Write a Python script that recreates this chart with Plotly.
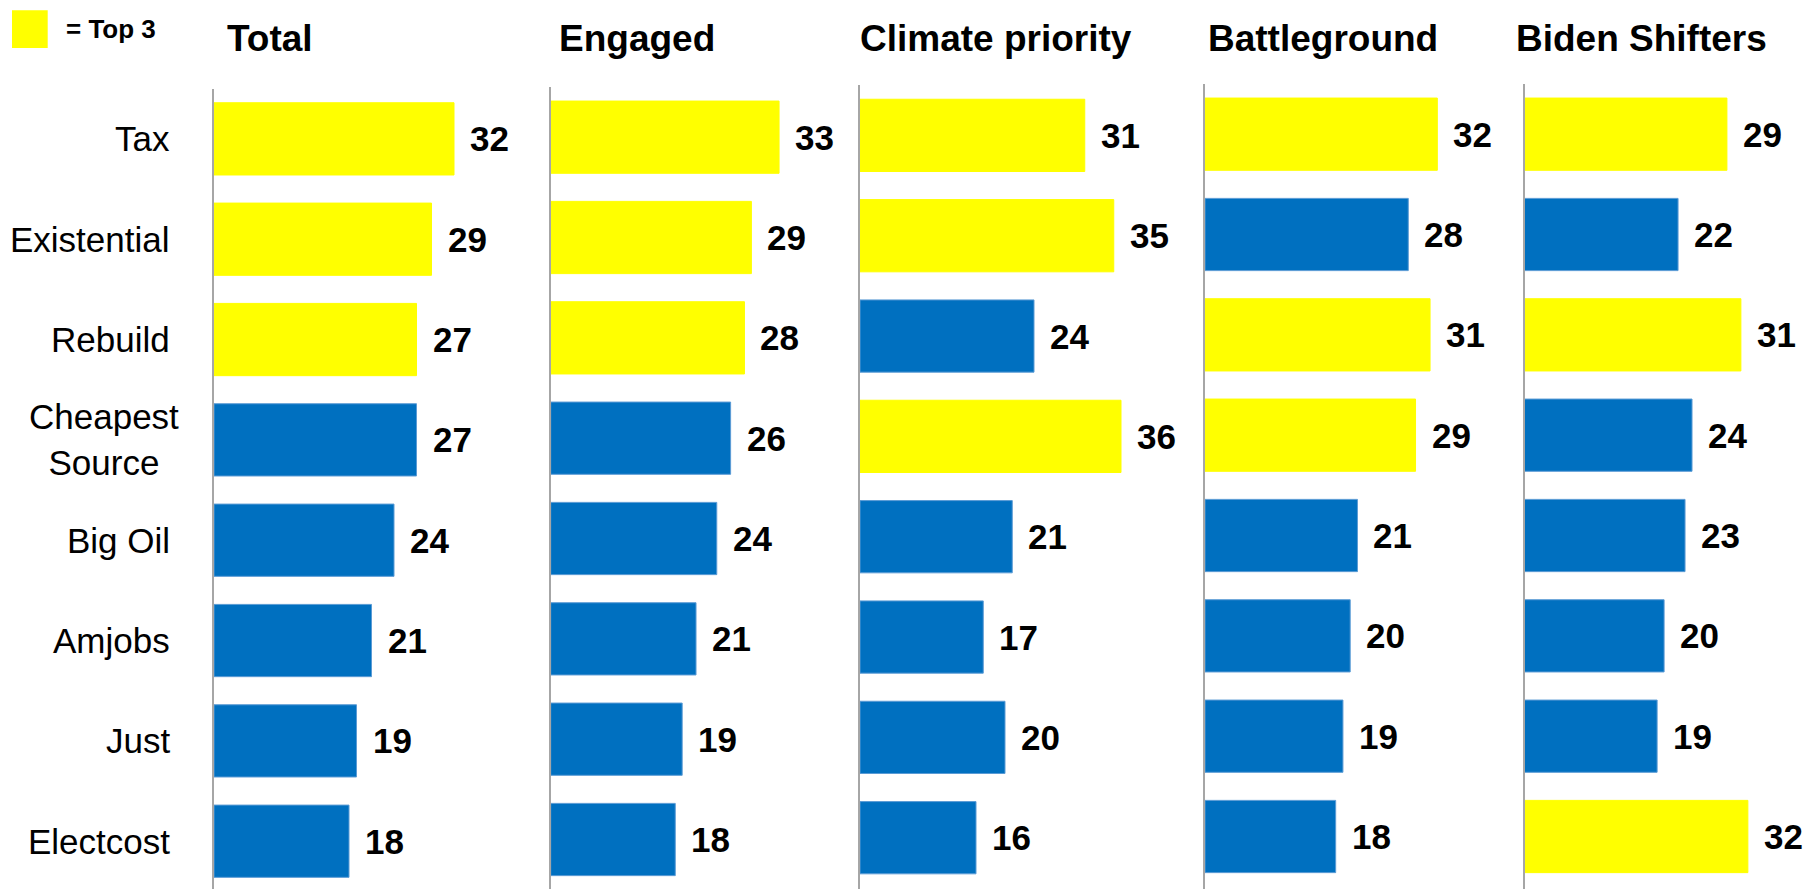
import plotly.graph_objects as go

# ---------------- data ----------------
categories = ["Tax", "Existential", "Rebuild", "Cheapest Source", "Big Oil", "Amjobs", "Just", "Electcost"]
category_labels = ["Tax", "Existential", "Rebuild", "Cheapest<br>Source", "Big Oil", "Amjobs", "Just", "Electcost"]
panel_titles = ["Total", "Engaged", "Climate priority", "Battleground", "Biden Shifters"]

total = [32, 29, 27, 27, 24, 21, 19, 18]
engaged = [33, 29, 28, 26, 24, 21, 19, 18]
climate_priority = [31, 35, 24, 36, 21, 17, 20, 16]
battleground = [32, 28, 31, 29, 21, 20, 19, 18]
biden_shifters = [29, 22, 31, 24, 23, 20, 19, 32]

top3_total = ["Tax", "Existential", "Rebuild"]
top3_engaged = ["Tax", "Existential", "Rebuild"]
top3_climate_priority = ["Tax", "Existential", "Cheapest Source"]
top3_battleground = ["Tax", "Rebuild", "Cheapest Source"]
top3_biden_shifters = ["Tax", "Rebuild", "Electcost"]

legend_label = "= Top 3"

# ---------------- styling / layout ----------------
W, H = 1810, 889
TOP_MARGIN = 83.8
YELLOW = "#FFFF00"
BLUE = "#0070C0"
BLUE_EDGE = "#5B9BD5"
FONT = "Liberation Sans, Arial, sans-serif"

series = [total, engaged, climate_priority, battleground, biden_shifters]
tops = [top3_total, top3_engaged, top3_climate_priority, top3_battleground, top3_biden_shifters]

axis_px = [214, 550.7, 860, 1205, 1524.5]        # left edge (pixel) of each panel
px_per_unit = [7.5, 6.92, 7.25, 7.26, 6.98]       # horizontal scale of each panel
panel_top_px = [88.5, 86.8, 85.0, 83.8, 83.8]     # top of each panel's axis line
title_px = [225, 557, 858, 1206, 1514]
row_pitch = 100.36
XMAX = 40

plot_h = H - TOP_MARGIN

fig = go.Figure()
annotations = []

for i, (vals, top3) in enumerate(zip(series, tops)):
    n = i + 1
    xa = "x" if n == 1 else f"x{n}"
    ya = "y" if n == 1 else f"y{n}"
    colors = [YELLOW if c in top3 else BLUE for c in categories]
    edges = [YELLOW if c in top3 else BLUE_EDGE for c in categories]
    fig.add_trace(go.Bar(
        x=vals, y=categories, orientation="h",
        marker=dict(color=colors, line=dict(color=edges, width=1)),
        xaxis=xa, yaxis=ya, showlegend=False, hoverinfo="x+y",
    ))
    x0 = axis_px[i] / W
    x1 = (axis_px[i] + XMAX * px_per_unit[i]) / W
    dom_top = min(1.0, max(0.0, 1 - (panel_top_px[i] - TOP_MARGIN) / plot_h))
    y_bottom = -0.5 + (H - panel_top_px[i]) / row_pitch
    xkey = "xaxis" if n == 1 else f"xaxis{n}"
    ykey = "yaxis" if n == 1 else f"yaxis{n}"
    fig.update_layout(**{
        xkey: dict(domain=[x0, x1], range=[0, XMAX], visible=False, anchor=ya),
        ykey: dict(domain=[0, dom_top], range=[y_bottom, -0.5], type="category",
                   categoryorder="array", categoryarray=categories,
                   showline=True, linecolor="#A6A6A6", linewidth=1.5,
                   showticklabels=False, showgrid=False, zeroline=False,
                   ticks="", anchor=xa),
    })
    # value labels
    for c, v in zip(categories, vals):
        annotations.append(dict(
            x=v, y=c, xref=xa, yref=ya, text=f"<b>{v}</b>", showarrow=False,
            xanchor="left", yanchor="middle", xshift=14,
            font=dict(family=FONT, size=35, color="black"),
        ))
    # panel title
    annotations.append(dict(
        x=title_px[i] / W, y=(H - 38) / plot_h, xref="paper", yref="paper",
        text=f"<b>{panel_titles[i]}</b>", showarrow=False,
        xanchor="left", yanchor="middle",
        font=dict(family=FONT, size=37, color="black"),
    ))

# category labels (first panel)
for c, lab in zip(categories, category_labels):
    annotations.append(dict(
        x=0, y=c, xref="x", yref="y", text=lab, showarrow=False,
        xanchor="right", yanchor="middle",
        xshift=-33 if "<br>" in lab else -42, align="center",
        font=dict(family=FONT, size=35, color="black"),
    ))

# legend
annotations.append(dict(
    x=64 / W, y=(H - 28.5) / plot_h, xref="paper", yref="paper",
    text=f"<b>{legend_label}</b>", showarrow=False, xanchor="left", yanchor="middle",
    font=dict(family=FONT, size=26, color="black"),
))
shapes = [dict(type="rect", xref="paper", yref="paper",
               x0=12 / W, x1=47.7 / W, y0=(H - 47.7) / plot_h, y1=(H - 10) / plot_h,
               fillcolor=YELLOW, line=dict(width=0))]

fig.update_layout(
    width=W, height=H,
    margin=dict(l=0, r=0, t=TOP_MARGIN, b=0),
    paper_bgcolor="white", plot_bgcolor="white",
    bargap=0.28,
    annotations=annotations, shapes=shapes,
    font=dict(family=FONT),
)

fig.write_html("out.html", config={"displayModeBar": False},
               post_script="document.body.style.margin='0';document.body.style.overflow='hidden';")
